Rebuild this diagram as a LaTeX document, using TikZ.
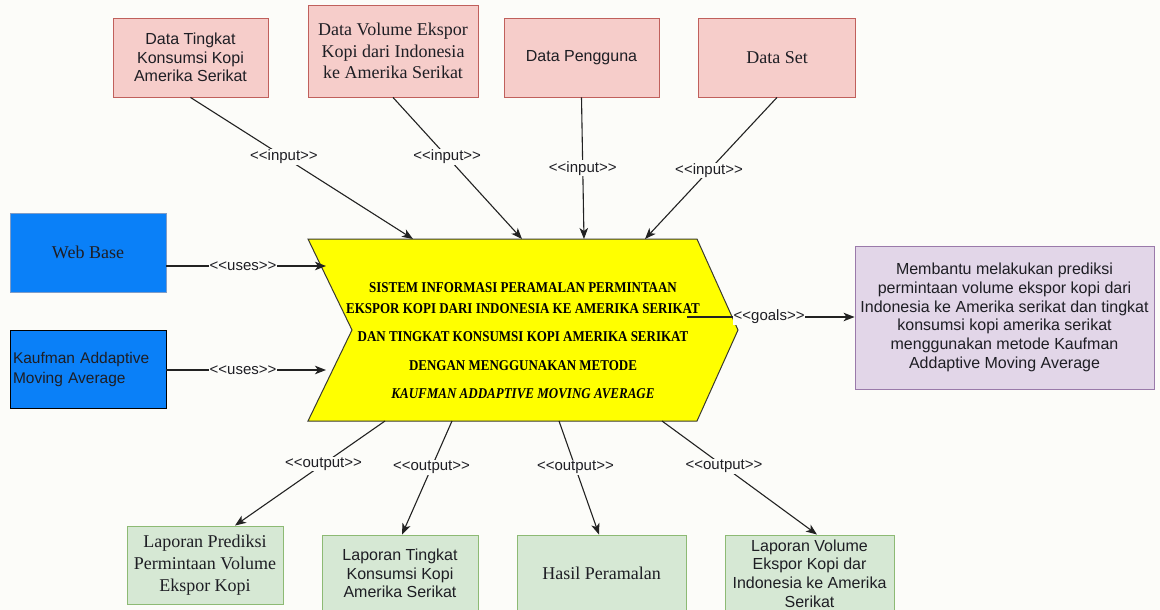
\documentclass[tikz,border=0pt]{standalone}
\usepackage{fontspec}
\setmainfont{Liberation Serif}
\newfontfamily\arial{Liberation Sans}
\usetikzlibrary{arrows.meta,calc}

\definecolor{bg}{HTML}{FCFCF9}
\definecolor{txt}{HTML}{1E1E24}
\definecolor{lin}{HTML}{222222}
\definecolor{pinkfill}{HTML}{F6CDCA}
\definecolor{pinkdraw}{HTML}{C0605C}
\definecolor{bluefill}{HTML}{0A80F8}
\definecolor{bluedraw}{HTML}{7E9CC8}
\definecolor{greenfill}{HTML}{D6E8D4}
\definecolor{greendraw}{HTML}{8DBA74}
\definecolor{purplefill}{HTML}{E2D6E8}
\definecolor{purpledraw}{HTML}{9A7AAA}
\definecolor{sysfill}{HTML}{FFFF00}
\definecolor{sysdraw}{HTML}{3A3A30}

\newcommand\stereo[1]{<\kern0pt<#1>\kern0pt>}

\begin{document}
\begin{tikzpicture}[x=1pt,y=-1pt,
  box/.style={draw, line width=0.9pt, inner sep=2pt, align=center, text=txt},
  datain/.style={box, fill=pinkfill, draw=pinkdraw},
  tool/.style={box, fill=bluefill, draw=bluedraw},
  result/.style={box, fill=greenfill, draw=greendraw},
  goalbox/.style={box, fill=purplefill, draw=purpledraw},
  sansA/.style={font=\arial\fontsize{16}{18.7}\selectfont},
  serifA/.style={font=\fontsize{18}{21.7}\selectfont},
  lbl/.style={font=\arial\fontsize{15}{17}\selectfont, fill=bg, inner sep=0.8pt, text=txt},
  conn/.style={line width=1.1pt, draw=lin, -{Stealth[length=11pt,width=8.5pt,inset=3pt]}},
  systext/.style={font=\bfseries\fontsize{13}{18.3}\selectfont, text=black, inner sep=0pt}
]
\useasboundingbox (0,0) rectangle (1160,610);
\clip (0,0) rectangle (1160,610);
\fill[bg] (0,0) rectangle (1160,610);

% input data
\node[datain, sansA, minimum width=155pt, minimum height=79pt] (dt) at (190.5,57.5)
  {Data Tingkat\\Konsumsi Kopi\\Amerika Serikat};
\node[datain, serifA, minimum width=170pt, minimum height=92pt] (dv) at (393,51)
  {Data Volume Ekspor\\Kopi dari Indonesia\\ke Amerika Serikat};
\node[datain, sansA, minimum width=155pt, minimum height=79pt] (dp) at (581.5,57.5)
  {Data Pengguna};
\node[datain, serifA, minimum width=157pt, minimum height=79pt] (ds) at (777,57.5)
  {Data Set};

% tools
\node[tool, serifA, minimum width=156pt, minimum height=79pt] (web) at (88,252.5)
  {Web Base};
\node[tool, draw=black, font=\arial\fontsize{15.5}{20}\selectfont, align=left,
      minimum width=156pt, minimum height=78pt, text width=150pt] (kama) at (88,369)
  {Kaufman Addaptive\\Moving Average};

% goal
\node[goalbox, sansA, minimum width=299pt, minimum height=143pt] (goal) at (1004.5,317.5)
  {Membantu melakukan prediksi\\permintaan volume ekspor kopi dari\\Indonesia ke Amerika serikat dan tingkat\\konsumsi kopi amerika serikat\\menggunakan metode Kaufman\\Addaptive Moving Average};

% outputs
\node[result, serifA, minimum width=156pt, minimum height=78pt] (lp) at (205,565)
  {Laporan Prediksi\\Permintaan Volume\\Ekspor Kopi};
\node[result, sansA, minimum width=156pt, minimum height=77pt] (lt) at (400,573.5)
  {Laporan Tingkat\\Konsumsi Kopi\\Amerika Serikat};
\node[result, serifA, minimum width=169pt, minimum height=77pt] (hp) at (601.5,573.5)
  {Hasil Peramalan};
\node[result, sansA, minimum width=169pt, minimum height=77pt] (lv) at (809.5,573.5)
  {Laporan Volume\\Ekspor Kopi dar\\Indonesia ke Amerika\\Serikat};

% system chevron
\draw[line width=1pt, draw=sysdraw, fill=sysfill]
  (308,239) -- (697,239) -- (738,330) -- (697,421) -- (308,421) -- (352,330) -- cycle;
\node[systext] (sys) at (523,341.5)
  {\scalebox{1}[1.15]{\begin{tabular}{@{}c@{}}
   SISTEM INFORMASI PERAMALAN PERMINTAAN\\
   EKSPOR KOPI DARI INDONESIA KE AMERIKA SERIKAT\\[6pt]
   DAN TINGKAT KONSUMSI KOPI AMERIKA SERIKAT\\[6.8pt]
   DENGAN MENGGUNAKAN METODE\\[6pt]
   \itshape KAUFMAN ADDAPTIVE MOVING AVERAGE
   \end{tabular}}};

% attachment points on the chevron outline
\coordinate (i1) at (413,239);
\coordinate (i2) at (522,239);
\coordinate (i3) at (584,239);
\coordinate (i4) at (645,239);
\coordinate (u1) at (326,266);
\coordinate (u2) at (326,370);
\coordinate (g0) at (687,317);
\coordinate (o1) at (385,421);
\coordinate (o2) at (452,421);
\coordinate (o3) at (559,421);
\coordinate (o4) at (662,421);

% inputs
\draw[conn] (dt.south) -- node[lbl, pos=0.42] (li1) {\stereo{input}} (i1);
\draw[conn] (dv.south) -- node[lbl, pos=0.42] (li2) {\stereo{input}} (i2);
\draw[conn] (dp.south) -- node[lbl, pos=0.5] (li3) {\stereo{input}} (i3);
\draw[conn] (ds.south) -- node[lbl, pos=0.515] (li4) {\stereo{input}} (i4);

% uses
\draw[conn] (web.east |- u1) -- node[lbl, pos=0.48] (lu1) {\stereo{uses}} (u1);
\draw[conn] (kama.east |- u2) -- node[lbl, pos=0.48] (lu2) {\stereo{uses}} (u2);

% goals
\draw[conn] (g0) -- node[lbl, pos=0.49] (lg) {\stereo{goals}} (goal.west |- g0);

% outputs
\draw[conn] (o1) -- node[lbl, pos=0.41] (lo1) {\stereo{output}} ($(lp.north)+(30,0)$);
\draw[conn] (o2) -- node[lbl, pos=0.41] (lo2) {\stereo{output}} ($(lt.north)+(2,0)$);
\draw[conn] (o3) -- node[lbl, pos=0.41] (lo3) {\stereo{output}} ($(hp.north)+(-2.5,0)$);
\draw[conn] (o4) -- node[lbl, pos=0.40] (lo4) {\stereo{output}} ($(lv.north)+(7.5,0)$);
\end{tikzpicture}
\end{document}
